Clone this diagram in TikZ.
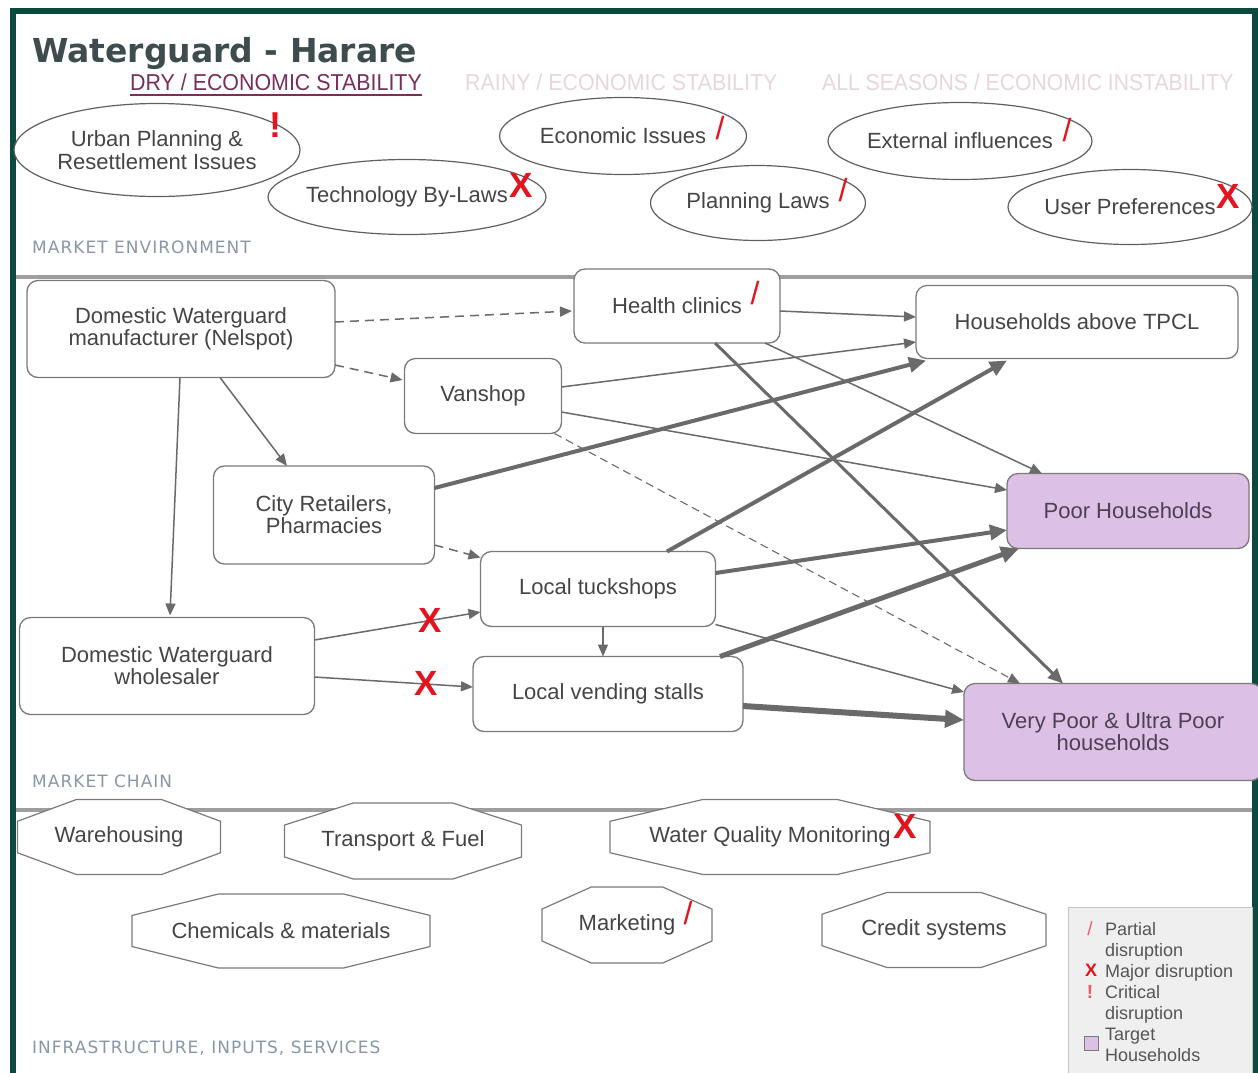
\documentclass[tikz,border=0pt]{standalone}
\usepackage{fontspec}
\usepackage{graphicx}
\setmainfont{Liberation Sans}
\newfontfamily\titlefont{DejaVu Sans}
\newfontfamily\secfont[LetterSpace=6.0]{DejaVu Sans}
\usetikzlibrary{shapes.geometric,arrows.meta,calc}
\definecolor{frame}{HTML}{0C4A40}
\definecolor{sepgray}{HTML}{9E9E9E}
\definecolor{titlecol}{HTML}{3E4C4E}
\definecolor{drycol}{HTML}{7A2E5C}
\definecolor{fadecol}{HTML}{E8D6DE}
\definecolor{seccol}{HTML}{8997A6}
\definecolor{txt}{HTML}{454545}
\definecolor{boxline}{HTML}{7A7A7A}
\definecolor{ellline}{HTML}{606060}
\definecolor{arr}{HTML}{6A6A6A}
\definecolor{mred}{HTML}{E3141E}
\definecolor{lav}{HTML}{DDC0E6}
\definecolor{lavtxt}{HTML}{4E3F55}
\definecolor{legfill}{HTML}{EFEFEF}
\definecolor{legline}{HTML}{C4C4C4}
\definecolor{leggray}{HTML}{555555}
\tikzset{
 box/.style={rectangle, draw=boxline, line width=1.3pt, rounded corners=11pt, fill=white, text=txt, font=\fontsize{22}{22}\selectfont, align=center, inner sep=0pt, outer sep=0pt},
 tgt/.style={box, fill=lav, text=lavtxt},
 ell/.style={ellipse, draw=ellline, line width=1.2pt, fill=white, text=txt, font=\fontsize{22}{23}\selectfont, align=center, inner xsep=-30pt, inner ysep=-10pt, outer sep=0pt},
 octline/.style={draw=boxline, line width=1.2pt, fill=white},
 octtext/.style={text=txt, font=\fontsize{22}{22}\selectfont, inner sep=0pt},
 seclabel/.style={anchor=base west, inner sep=0pt, text=seccol, font=\secfont\fontsize{17}{17}\selectfont},
 subt/.style={anchor=base west, inner sep=0pt, font=\fontsize{23}{23}\selectfont},
 athin/.style={draw=arr, line width=1.5pt, -{Triangle[length=12pt,width=10pt]}},
 adash/.style={athin, dash pattern=on 9pt off 6pt},
 amid/.style={draw=arr, line width=3pt, -{Triangle[length=15pt,width=13pt]}},
 athick/.style={draw=arr, line width=4pt, -{Triangle[length=17pt,width=15pt]}},
 athicker/.style={draw=arr, line width=5pt, -{Triangle[length=18pt,width=16pt]}},
 athickest/.style={draw=arr, line width=6pt, -{Triangle[length=19pt,width=17pt]}},
 markx/.style={text=mred, font=\fontsize{35}{35}\selectfont\bfseries, inner sep=0pt},
 markslash/.style={text=mred, font=\fontsize{32}{32}\selectfont, inner sep=0pt},
 markexcl/.style={text=mred, font=\fontsize{36}{36}\selectfont\bfseries, inner sep=0pt},
}
\newcommand\octnode[6]{%
  \pgfmathsetmacro\oxl{#2-#4/2}\pgfmathsetmacro\oxr{#2+#4/2}%
  \pgfmathsetmacro\oyt{#3-#5/2}\pgfmathsetmacro\oyb{#3+#5/2}%
  \pgfmathsetmacro\oa{0.29*#4}\pgfmathsetmacro\ob{0.29*#5}%
  \draw[octline] (\oxl+\oa,\oyt) -- (\oxr-\oa,\oyt) -- (\oxr,\oyt+\ob) -- (\oxr,\oyb-\ob) -- (\oxr-\oa,\oyb) -- (\oxl+\oa,\oyb) -- (\oxl,\oyb-\ob) -- (\oxl,\oyt+\ob) -- cycle;
  \node[octtext] (#1) at (#2,#3) {#6};}
\begin{document}
\begin{tikzpicture}[x=1pt,y=-1pt]
\useasboundingbox (0,0) rectangle (1258,1072);
\clip (0,0) rectangle (1258,1072);
\fill[white] (0,0) rectangle (1258,1072);
% frame
\draw[frame, line width=6pt] (13,1095) -- (13,11) -- (1255,11) -- (1255,1095);
% separators
\draw[sepgray, line width=4pt] (16,277) -- (1252,277);
\draw[sepgray, line width=4pt] (16,810) -- (1252,810);
% title
\node[anchor=base west, inner sep=0pt, text=titlecol, font=\titlefont\bfseries\fontsize{33}{33}\selectfont] (title) at (32,62) {Waterguard - Harare};
\node[subt, text=drycol] (dry) at (130,90) {\scalebox{0.93}[1]{DRY / ECONOMIC STABILITY}};
\draw[drycol, line width=1.2pt] ($(dry.base west)+(0,5)$) -- ($(dry.base east)+(0,5)$);
\node[subt, text=fadecol] (rainy) at (465,90) {\scalebox{0.93}[1]{RAINY / ECONOMIC STABILITY}};
\node[subt, text=fadecol] (allseas) at (822,90) {\scalebox{0.92}[1]{ALL SEASONS / ECONOMIC INSTABILITY}};
% section labels
\node[seclabel] (envlab) at (32,253) {MARKET ENVIRONMENT};
\node[seclabel] (chainlab) at (32,787) {MARKET CHAIN};
\node[seclabel] (infralab) at (32,1053) {INFRASTRUCTURE, INPUTS, SERVICES};
% market environment
\node[ell, minimum width=286, minimum height=93] (urban) at (157,150) {Urban Planning \&\\Resettlement Issues};
\node[ell, minimum width=278, minimum height=75] (tech) at (407,197) {Technology By-Laws};
\node[ell, minimum width=247, minimum height=77] (econ) at (623,136) {Economic Issues};
\node[ell, minimum width=215, minimum height=75] (plan) at (758,203) {Planning Laws};
\node[ell, minimum width=264, minimum height=77] (ext) at (960,141) {External influences};
\node[ell, minimum width=244, minimum height=75] (user) at (1130,207) {User Preferences};
\node[markexcl] (murban) at (275,125) {!};
\node[markx] (mtech) at (521,185) {X};
\node[markslash] (mecon) at (720,128) {/};
\node[markslash] (mplan) at (843,190) {/};
\node[markslash] (mext) at (1067,130) {/};
\node[markx] (muser) at (1228,196) {X};
% market chain
\node[box, minimum width=308, minimum height=97] (man) at (181,329) {Domestic Waterguard\\manufacturer (Nelspot)};
\node[box, minimum width=206, minimum height=74] (hc) at (677,306) {Health clinics};
\node[box, minimum width=322, minimum height=73] (hh) at (1077,322) {Households above TPCL};
\node[box, minimum width=157, minimum height=75] (van) at (483,396) {Vanshop};
\node[box, minimum width=221, minimum height=98] (city) at (324,515) {City Retailers,\\Pharmacies};
\node[tgt, minimum width=242, minimum height=75] (poor) at (1128,511) {Poor Households};
\node[box, minimum width=235, minimum height=75] (tuck) at (598,589) {Local tuckshops};
\node[box, minimum width=295, minimum height=97] (whole) at (167,666) {Domestic Waterguard\\wholesaler};
\node[box, minimum width=270, minimum height=75] (vend) at (608,694) {Local vending stalls};
\node[tgt, minimum width=298, minimum height=97] (vpoor) at (1113,732) {Very Poor \& Ultra Poor\\households};
\node[markslash] (mhc) at (755,293) {/};
% connectors
\draw[adash] ($(man.east)+(0,-7)$) -- ($(hc.west)+(-2,5)$);
\draw[adash] ($(man.east)+(0,36)$) -- ($(van.west)+(-2,-16)$);
\draw[athin] ($(man.south)+(39,0)$) -- ($(city.north)+(-37,0)$);
\draw[athin] ($(man.south)+(-1,0)$) -- ($(whole.north)+(3,-2)$);
\draw[athin] ($(hc.east)+(0,5)$) -- ($(hh.west)+(0,-5)$);
\draw[athin] ($(van.east)+(0,-9)$) -- ($(hh.west)+(0,20)$);
\draw[athick] ($(city.east)+(0,-27)$) -- ($(hh.south west)+(10,2)$);
\draw[athick] ($(tuck.north)+(69,0)$) -- ($(hh.south)+(-70,2)$);
\draw[athin] ($(hc.south east)+(-15,0)$) -- ($(poor.north west)+(35,0)$);
\draw[amid] ($(hc.south)+(38,0)$) -- ($(vpoor.north)+(-50,0)$);
\draw[athin] ($(van.east)+(0,16)$) -- ($(poor.west)+(0,-21)$);
\draw[athin, line width=1.1pt, dash pattern=on 8pt off 5pt] ($(van.south east)+(-7,0)$) -- ($(vpoor.north west)+(56,0)$);
\draw[adash] ($(city.east)+(0,30)$) -- ($(tuck.north west)+(0,6)$);
\draw[athick] ($(tuck.east)+(0,-16)$) -- ($(poor.west)+(0,19)$);
\draw[athin] ($(tuck.south)+(5,0)$) -- ($(vend.north)+(-5,0)$);
\draw[athin] ($(tuck.south east)+(0,-2)$) -- ($(vpoor.west)+(0,-40)$);
\draw[athicker] ($(vend.north east)+(-23,0)$) -- ($(poor.south west)+(12,0)$);
\draw[athickest] ($(vend.east)+(0,12)$) -- ($(vpoor.west)+(0,-12)$);
\draw[athin] ($(whole.east)+(0,-26)$) -- ($(tuck.west)+(0,23)$);
\draw[athin] ($(whole.east)+(0,11)$) -- ($(vend.west)+(0,-7)$);
\node[markx] (mwt) at (430,620) {X};
\node[markx] (mwv) at (426,683) {X};
% infrastructure
\octnode{wh}{119}{837}{203}{75}{Warehousing}
\octnode{tf}{403}{841}{237}{76}{Transport \& Fuel}
\octnode{wq}{770}{837}{320}{75}{Water Quality Monitoring}
\octnode{chem}{281}{931}{298}{74}{Chemicals \& materials}
\octnode{mkt}{627}{925}{170}{76}{Marketing}
\octnode{cred}{934}{930}{224}{75}{Credit systems}
\node[markx] (mwq) at (905,826) {X};
\node[markslash] (mmkt) at (688,913) {/};
% legend
\node[draw=legline, fill=legfill, line width=1pt, minimum width=184, minimum height=175, anchor=north west, inner sep=0pt] (legend) at (1068,907) {};
\node[anchor=north west, align=left, inner sep=0pt, text=leggray, font=\fontsize{18}{21}\selectfont] (legtxt) at (1105,922) {Partial\\disruption\\Major disruption\\Critical\\disruption\\Target\\Households};
\node[text=mred!70, font=\fontsize{19}{19}\selectfont, inner sep=0pt] (lslash) at (1090,929) {/};
\node[text=mred, font=\fontsize{18}{18}\selectfont\bfseries, inner sep=0pt] (lx) at (1091,970) {X};
\node[text=mred!70, font=\fontsize{19}{19}\selectfont\bfseries, inner sep=0pt] (lexcl) at (1090,992) {!};
\node[draw=boxline, fill=lav, line width=1pt, minimum size=14, inner sep=0pt] (lsq) at (1091,1043) {};
\end{tikzpicture}
\end{document}
